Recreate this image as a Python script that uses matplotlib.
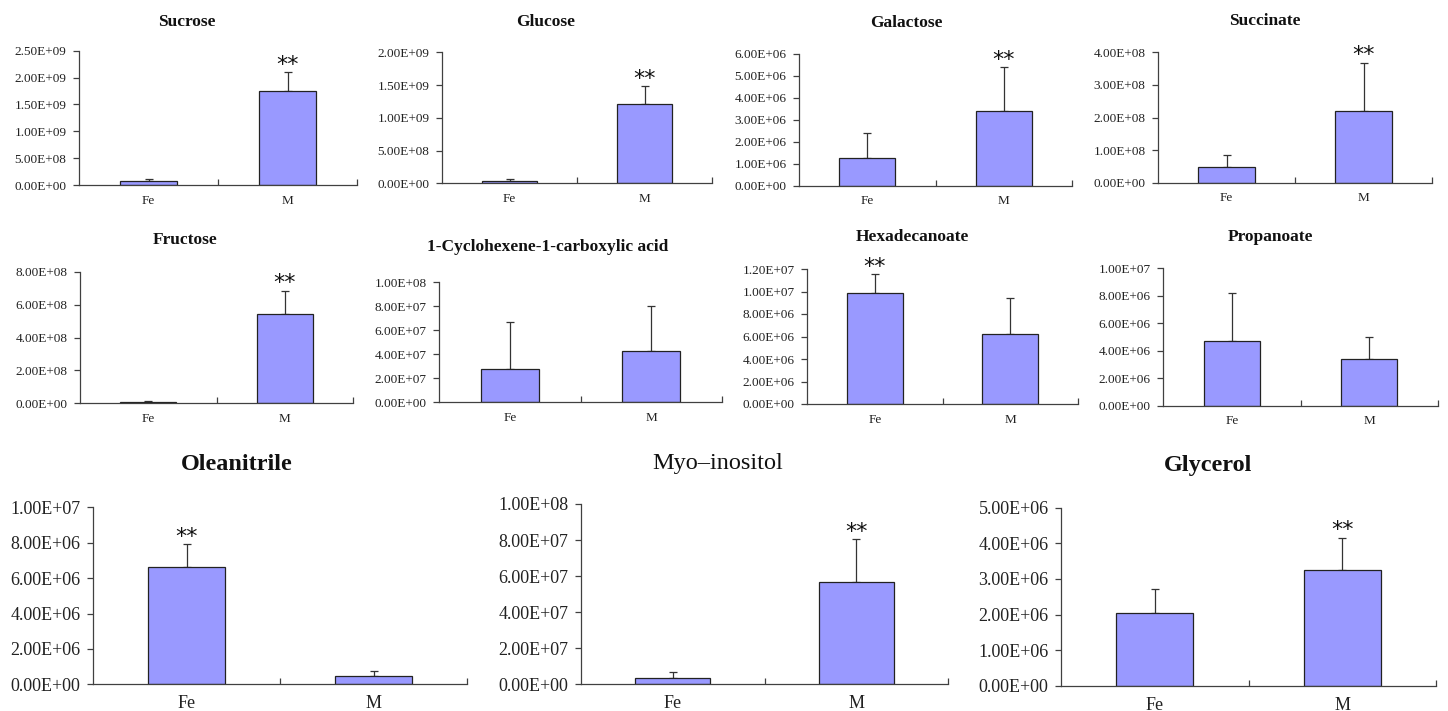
import matplotlib.pyplot as plt
from matplotlib.ticker import FuncFormatter, MultipleLocator

plt.rcParams['font.family'] = ['Liberation Serif', 'DejaVu Serif']

W, H = 1448, 711

groups = ['Fe', 'M']
names = ['Sucrose', 'Glucose', 'Galactose', 'Succinate',
         'Fructose', '1-Cyclohexene-1-carboxylic acid', 'Hexadecanoate', 'Propanoate',
         'Oleanitrile', 'Myo\u2013inositol', 'Glycerol']
fe_mean = [8.0e7, 3.6e7, 1.26e6, 4.8e7, 1.0e7, 2.78e7, 9.84e6, 4.71e6, 6.65e6, 3.5e6, 2.04e6]
fe_err = [3.0e7, 3.0e7, 1.12e6, 3.6e7, 4.0e6, 3.9e7, 1.69e6, 3.52e6, 1.26e6, 3.15e6, 0.67e6]
m_mean = [1.75e9, 1.21e9, 3.4e6, 2.21e8, 5.45e8, 4.3e7, 6.19e6, 3.37e6, 4.7e5, 5.69e7, 3.24e6]
m_err = [3.5e8, 2.7e8, 2.0e6, 1.47e8, 1.4e8, 3.7e7, 3.2e6, 1.65e6, 2.8e5, 2.37e7, 0.92e6]
y_max = [2.5e9, 2.0e9, 6e6, 4e8, 8e8, 1e8, 1.2e7, 1e7, 1e7, 1e8, 5e6]
y_step = [5e8, 5e8, 1e6, 1e8, 2e8, 2e7, 2e6, 2e6, 2e6, 2e7, 1e6]
star_on = ['M', 'M', 'M', 'M', 'M', None, 'Fe', None, 'Fe', 'M', 'M']

# panel boxes in pixels: left, right, top, bottom(zero line)
boxes = [(79, 357, 50.7, 185), (442, 712, 52.3, 183.3), (799, 1072, 54, 185.7), (1158, 1432, 52.3, 182.7),
         (80, 353, 271.7, 403.3), (439, 722, 282.3, 402.3), (807, 1078, 269, 404), (1163, 1438, 268.3, 405.7),
         (93, 467, 507.3, 684.3), (581, 948, 504, 684.3), (1061, 1436, 507.7, 685.7)]
# title centres in pixels
title_pos = [(187, 22), (546, 22), (906, 23), (1265, 21),
             (185, 240), (548, 247), (912, 237), (1270, 237),
             (237, 465), (718, 463), (1208, 465)]

BAR = '#9999FF'
AX = '#404040'

fig = plt.figure(figsize=(W / 100, H / 100), dpi=100)

for i, name in enumerate(names):
    l, r, t, b = boxes[i]
    big = i >= 8
    tick_fs = 13 if big else 9.5
    title_fs = 17.5 if big else 12.5
    ax = fig.add_axes([l / W, 1 - b / H, (r - l) / W, (b - t) / H])

    x = [0, 1]
    means = [fe_mean[i], m_mean[i]]
    errs = [fe_err[i], m_err[i]]
    ax.bar(x, means, width=0.41, color=BAR, edgecolor='#222222', linewidth=0.9, zorder=2)
    ax.errorbar(x, means, yerr=[[0, 0], errs], fmt='none', ecolor='#333333',
                elinewidth=0.9, capsize=3, capthick=0.9, zorder=1)

    if star_on[i] is not None:
        k = groups.index(star_on[i])
        ax.annotate('**', (k, means[k] + errs[k]), xytext=(0, 1), textcoords='offset points',
                    ha='center', va='baseline', fontsize=16, color='#111111',
                    family='DejaVu Sans')

    ax.set_xlim(-0.5, 1.5)
    ax.set_ylim(0, y_max[i])
    ax.yaxis.set_major_locator(MultipleLocator(y_step[i]))
    ax.yaxis.set_major_formatter(FuncFormatter(lambda v, p: f'{v:.2E}'))

    ax.set_xticks([0.5, 1.5])
    ax.set_xticklabels([])
    ax.set_xticks(x, minor=True)
    ax.set_xticklabels(groups, minor=True)
    ax.tick_params(axis='x', which='major', direction='in', length=4, width=0.9, color=AX)
    ax.tick_params(axis='x', which='minor', length=0, pad=8 if big else 7,
                   labelsize=tick_fs, labelcolor='#222222')
    ax.tick_params(axis='y', direction='out', length=4, width=0.9, color=AX,
                   labelsize=tick_fs, labelcolor='#222222', pad=5)

    for s in ['top', 'right']:
        ax.spines[s].set_visible(False)
    for s in ['left', 'bottom']:
        ax.spines[s].set_color(AX)
        ax.spines[s].set_linewidth(0.9)

    tx, ty = title_pos[i]
    fig.text(tx / W, 1 - ty / H, name, ha='center', va='center', fontsize=title_fs,
             fontweight='normal' if i == 9 else 'bold', color='#111111')

fig.savefig('out.png', dpi=100)
